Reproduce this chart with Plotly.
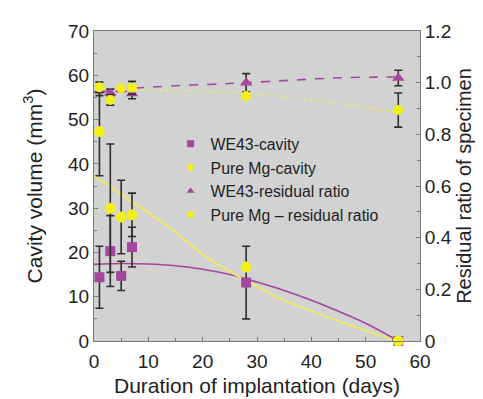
import plotly.graph_objects as go

# ---- data ----
days = [1, 3, 5, 7, 28, 56]
we43_cavity = [14.4, 20.3, 14.7, 21.2, 13.2, 0]
we43_cavity_err = [7.0, 8.0, 3.3, 4.5, 8.2, 0]
mg_cavity = [47.3, 30.0, 28.0, 28.5, 16.7, 0]
mg_cavity_err = [10.0, 14.5, 8.3, 4.9, 0, 0]
we43_ratio = [0.97, 0.96, 0.975, 0.958, 1.0, 1.018]
we43_ratio_err = [0.02, 0.015, 0.01, 0.02, 0.035, 0.03]
mg_ratio = [0.982, 0.933, 0.978, 0.98, 0.948, 0.894]
mg_ratio_err = [0.02, 0.02, 0.01, 0.025, 0.0, 0.066]

# trend curves
we43_cav_fit_x = [0, 5, 10, 15, 20, 25, 30, 35, 40, 45, 50, 56]
we43_cav_fit_y = [17.3, 17.5, 17.4, 17.0, 16.2, 15.0, 13.3, 11.4, 9.2, 6.7, 4.0, 0]
mg_cav_fit_x = [0, 6, 14, 21, 28, 34, 41, 47, 53, 56]
mg_cav_fit_y = [37.3, 32.3, 25.5, 18.7, 13.6, 9.7, 6.3, 3.6, 1.1, 0]
we43_ratio_fit_x = [1, 7, 14, 23, 28, 35, 41, 47, 56]
we43_ratio_fit_y = [0.965, 0.978, 0.987, 0.995, 1.0, 1.008, 1.015, 1.02, 1.022]
mg_ratio_fit_x = [1, 7, 17, 28, 34, 41, 47, 53, 56]
mg_ratio_fit_y = [0.978, 0.974, 0.968, 0.96, 0.948, 0.929, 0.914, 0.893, 0.885]

legend_names = ["WE43-cavity", "Pure Mg-cavity", "WE43-residual ratio",
                "Pure Mg \u2013 residual ratio"]

x_ticks = [0, 10, 20, 30, 40, 50, 60]
y_ticks = [0, 10, 20, 30, 40, 50, 60, 70]
y2_ticks = [0, 0.2, 0.4, 0.6, 0.8, 1.0, 1.2]
y2_labels = ["0", "0.2", "0.4", "0.6", "0.8", "1.0", "1.2"]

PURPLE = "#a3479d"
YELLOW = "#f2ef1e"
YELLOW_LINE = "#ece86a"
ERR = "#2e2e2e"

fig = go.Figure()

# trend lines
fig.add_trace(go.Scatter(x=we43_cav_fit_x, y=we43_cav_fit_y, mode="lines",
                         line=dict(color=PURPLE, width=1.6, shape="spline"),
                         showlegend=False, hoverinfo="skip"))
fig.add_trace(go.Scatter(x=mg_cav_fit_x, y=mg_cav_fit_y, mode="lines",
                         line=dict(color=YELLOW_LINE, width=2, shape="spline"),
                         showlegend=False, hoverinfo="skip"))
fig.add_trace(go.Scatter(x=we43_ratio_fit_x, y=we43_ratio_fit_y, mode="lines", yaxis="y2",
                         line=dict(color=PURPLE, width=1.6, dash="dash", shape="spline"),
                         showlegend=False, hoverinfo="skip"))
fig.add_trace(go.Scatter(x=mg_ratio_fit_x, y=mg_ratio_fit_y, mode="lines", yaxis="y2",
                         line=dict(color=YELLOW_LINE, width=1.6, dash="dot", shape="spline"),
                         showlegend=False, hoverinfo="skip"))

eb = dict(type="data", color=ERR, thickness=1.6, width=4)

fig.add_trace(go.Scatter(x=days, y=we43_cavity, mode="markers", showlegend=False,
                         marker=dict(symbol="square", size=10, color=PURPLE),
                         error_y=dict(array=we43_cavity_err, **eb), cliponaxis=False))
fig.add_trace(go.Scatter(x=days, y=mg_cavity, mode="markers", showlegend=False,
                         marker=dict(symbol="circle", size=11, color=YELLOW),
                         error_y=dict(array=mg_cavity_err, **eb), cliponaxis=False))
fig.add_trace(go.Scatter(x=days, y=we43_ratio, mode="markers", showlegend=False,
                         yaxis="y2",
                         marker=dict(symbol="triangle-up", size=11, color=PURPLE),
                         error_y=dict(array=we43_ratio_err, **eb), cliponaxis=False))
fig.add_trace(go.Scatter(x=days, y=mg_ratio, mode="markers", showlegend=False,
                         yaxis="y2",
                         marker=dict(symbol="circle", size=10, color=YELLOW),
                         error_y=dict(array=mg_ratio_err, **eb), cliponaxis=False))

# legend-only entries with smaller symbols
legend_symbols = ["square", "circle", "triangle-up", "circle"]
legend_colors = [PURPLE, YELLOW, PURPLE, YELLOW]
for nm, sym, col in zip(legend_names, legend_symbols, legend_colors):
    fig.add_trace(go.Scatter(x=[None], y=[None], mode="markers", name=nm,
                             marker=dict(symbol=sym, size=7, color=col)))

axis_common = dict(showline=True, linecolor="#7a7a7a", linewidth=1, ticks="inside",
                   ticklen=4, tickcolor="#7a7a7a", showgrid=False, zeroline=False,
                   automargin=False, tickfont=dict(size=19, color="#222"))

fig.update_layout(
    width=483, height=399,
    margin=dict(l=86, r=71, t=23, b=66),
    paper_bgcolor="white", plot_bgcolor="#d2d2d2",
    font=dict(family="Liberation Sans, Arial, sans-serif", color="#222"),
    xaxis=dict(range=[0, 60], tickvals=x_ticks, mirror=True, ticklabelstandoff=3,
               minor=dict(dtick=5, ticks="inside", ticklen=3, tickcolor="#7a7a7a"),
               title=dict(text="Duration of implantation (days)", font=dict(size=21), standoff=7),
               **axis_common),
    yaxis=dict(range=[0, 70], tickvals=y_ticks,
               minor=dict(dtick=5, ticks="inside", ticklen=3, tickcolor="#7a7a7a"),
               title=dict(text="Cavity volume (mm<sup>3</sup>)", font=dict(size=21), standoff=19),
               **axis_common),
    yaxis2=dict(range=[0, 1.2], tickvals=y2_ticks, ticktext=y2_labels, overlaying="y",
                side="right",
                minor=dict(dtick=0.1, ticks="inside", ticklen=3, tickcolor="#7a7a7a"),
                title=dict(text="Residual ratio of specimen", font=dict(size=20), standoff=6),
                **axis_common),
    legend=dict(x=0.235, y=0.69, xanchor="left", yanchor="top", bgcolor="rgba(0,0,0,0)",
                font=dict(size=15.8, color="#222"), tracegroupgap=0),
    showlegend=True,
)

fig.write_html("out.html")
